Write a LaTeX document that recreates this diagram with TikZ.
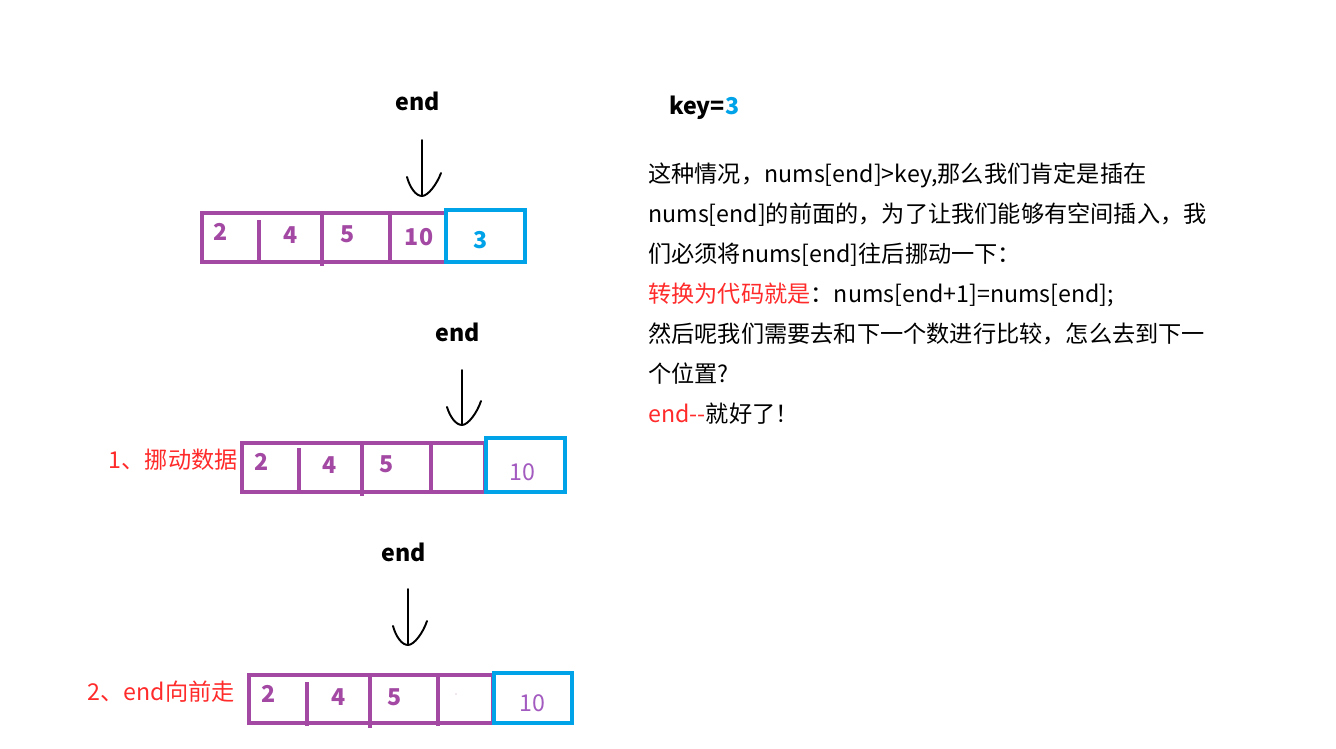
\documentclass[tikz,border=0pt]{standalone}
\usepackage{fontspec}
\setmainfont{Noto Sans CJK SC}
\usepackage{xcolor}
\usepackage{tikz}
\usetikzlibrary{calc}
\definecolor{ArrPurple}{HTML}{A349A4}
\definecolor{KeyBlue}{HTML}{00A2E8}
\definecolor{NoteRed}{HTML}{FF2A2A}
\definecolor{MovedNum}{HTML}{A35BC0}
\newcommand{\fsz}{\fontsize{13.2}{15}\selectfont}
\tikzset{
  % array frames
  AP/.style={draw=ArrPurple,line width=2.3pt},
  AB/.style={draw=KeyBlue,line width=2.3pt},
  % numbers in the cells
  nP/.style={font=\fsz\bfseries,text=ArrPurple,inner sep=0pt},
  nM/.style={font=\fsz,text=MovedNum,inner sep=0pt},
  nK/.style={font=\fsz\bfseries,text=KeyBlue,inner sep=0pt},
  % pointer label and hand drawn arrow
  EL/.style={font=\fsz\bfseries,inner sep=0pt},
  HD/.style={line width=1.1pt,line cap=round,line join=round},
  % notes
  TX/.style={font=\fsz,anchor=base west,inner sep=0pt},
  RL/.style={font=\fsz,text=NoteRed,anchor=east,inner sep=0pt}
}

\begin{document}
\begin{tikzpicture}[x=0.02cm,y=-0.02cm]
  \useasboundingbox (0,0) rectangle (1336,748);

  % ---- row 1
  \node[EL] (e1) at (418,101) {end};
  \coordinate (t1) at (422,140);
  \coordinate (h1) at (422,196);
  \draw[HD] (t1) -- (h1);
  \draw[HD] ($(h1)+(-15,-19)$) .. controls ($(h1)+(-12,-8)$) and ($(h1)+(-6,0)$) .. (h1)
            .. controls ($(h1)+(6,0)$) and ($(h1)+(15,-12)$) .. ($(h1)+(19,-23)$);
  \draw[AP] (202,213) rectangle (446,262);
  \draw[AP] (259,220) -- (259,264) (322,213) -- (322,266) (390,213) -- (390,264);
  \draw[AB] (446,210) rectangle (525,262);
  \node[nP] (a11) at (221,232) {2};
  \node[nP] (a12) at (291,235) {4};
  \node[nP] (a13) at (348,234) {5};
  \node[nP] (a14) at (419,237) {10};
  \node[nK] (a15) at (481,240) {3};

  % ---- row 2
  \node[EL] (e2) at (458,332) {end};
  \coordinate (t2) at (462,370);
  \coordinate (h2) at (462,425);
  \draw[HD] (t2) -- (h2);
  \draw[HD] ($(h2)+(-15,-18)$) .. controls ($(h2)+(-12,-8)$) and ($(h2)+(-6,0)$) .. (h2)
            .. controls ($(h2)+(6,0)$) and ($(h2)+(15,-12)$) .. ($(h2)+(19,-24)$);
  \draw[AP] (242,443) rectangle (485,492);
  \draw[AP] (299,448) -- (299,494) (362,443) -- (362,496) (431,443) -- (431,494);
  \draw[AB] (486,438) rectangle (565,492);
  \node[nP] (a21) at (262,462) {2};
  \node[nP] (a22) at (330,465) {4};
  \node[nP] (a23) at (387,464) {5};
  \node[nM] (a25) at (522,472) {10};
  \node[RL] (s1) at (238,460) {1、挪动数据};

  % ---- row 3
  \node[EL] (e3) at (404,552) {end};
  \coordinate (t3) at (408,589);
  \coordinate (h3) at (408,645);
  \draw[HD] (t3) -- (h3);
  \draw[HD] ($(h3)+(-15,-19)$) .. controls ($(h3)+(-12,-8)$) and ($(h3)+(-6,0)$) .. (h3)
            .. controls ($(h3)+(6,0)$) and ($(h3)+(15,-12)$) .. ($(h3)+(19,-24)$);
  \draw[AP] (249,675) rectangle (493,723);
  \draw[AP] (307,682) -- (307,726) (370,675) -- (370,728) (438,675) -- (438,726);
  \draw[AB] (494,673) rectangle (572,723);
  \node[nP] (a31) at (269,694) {2};
  \node[nP] (a32) at (339,697) {4};
  \node[nP] (a33) at (395,697) {5};
  \fill[ArrPurple!60] (456,694) circle (0.6);
  \node[nM] (a35) at (532,703) {10};
  \node[RL] (s2) at (235,692) {2、end向前走};

  % ---- notes
  \node[TX,font=\fsz\bfseries] (key) at (669,114) {key=\textcolor{KeyBlue}{3}};
  \node[TX] (l1) at (648,182) {这种情况，nums[end]>key,那么我们肯定是插在};
  \node[TX] (l2) at (648,222) {nums[end]的前面的，为了让我们能够有空间插入，我};
  \node[TX] (l3) at (648,262) {们必须将nums[end]往后挪动一下：};
  \node[TX] (l4) at (648,302) {\textcolor{NoteRed}{转换为代码就是}：nums[end+1]=nums[end];};
  \node[TX] (l5) at (648,342) {然后呢我们需要去和下一个数进行比较，怎么去到下一};
  \node[TX] (l6) at (648,382) {个位置?};
  \node[TX] (l7) at (648,422) {\textcolor{NoteRed}{end{-}{-}}就好了！};
\end{tikzpicture}
\end{document}
